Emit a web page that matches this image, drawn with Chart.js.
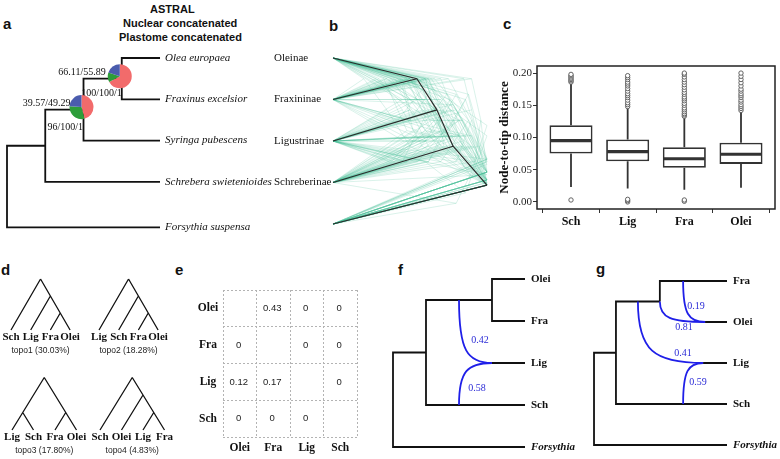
<!DOCTYPE html>
<html>
<head>
<meta charset="utf-8">
<script src="https://cdn.jsdelivr.net/npm/chart.js@4.4.1/dist/chart.umd.min.js"></script>
<style>
  body { margin: 0; background: #fff; }
  #page { position: relative; width: 780px; height: 459px; overflow: hidden; background: #fff; }
  #page canvas { position: absolute; }
  .tag { position: absolute; font: bold 15px/15px "Liberation Sans", Arial, sans-serif; color: #111; }
  .head { position: absolute; font: bold 11px/11px "Liberation Sans", Arial, sans-serif; color: #111; white-space: nowrap; }
</style>
</head>
<body>
<div id="page">
  <div class="tag" style="left:3px;top:16px">a</div>
  <div class="tag" style="left:329px;top:18px">b</div>
  <div class="tag" style="left:503px;top:16px">c</div>
  <div class="tag" style="left:1px;top:262px">d</div>
  <div class="tag" style="left:175px;top:262px">e</div>
  <div class="tag" style="left:398px;top:262px">f</div>
  <div class="tag" style="left:596px;top:261px">g</div>
  <div class="head" style="left:150px;top:4px">ASTRAL</div>
  <div class="head" style="left:123px;top:18px">Nuclear concatenated</div>
  <div class="head" style="left:119px;top:32px">Plastome concatenated</div>
</div>
<script>
// ---------- data ----------
// a: species tree (nested [depth, child, child]; numbers are tips)
const aTaxa = ['Olea europaea', 'Fraxinus excelsior', 'Syringa pubescens', 'Schrebera swietenioides', 'Forsythia suspensa'];
const aTree = [0, [1, [2, [3, 0, 1], 2], 3], 4];
const aPieDepth = [3, 2];
const aPieRed = [0.67, 0.46];
const aPieGreen = [0.13, 0.30];
const aPieBlue = [0.20, 0.24];
const aSupportTop = ['66.11/55.89', '39.57/49.29'];
const aSupportBottom = ['100/100/1', '96/100/1'];

// b: densitree, [child, child, height]; tips 0..4 = Oleinae, Fraxininae, Ligustrinae, Schreberinae, Forsythia
const bClades = ['Oleinae', 'Fraxininae', 'Ligustrinae', 'Schreberinae'];
const bConsensus = [[[[0, 1, 0.545], 2, 0.675], 3, 0.78], 4, 1];
const bGeneTrees = [
  [[[[0, 1, 0.50], 2, 0.62], 3, 0.74], 4, 1],
  [[[[0, 1, 0.58], 2, 0.70], 3, 0.80], 4, 1],
  [[[[0, 1, 0.40], 2, 0.55], 3, 0.70], 4, 1],
  [[[[0, 1, 0.62], 2, 0.72], 3, 0.85], 4, 1],
  [[[[0, 1, 0.35], 2, 0.65], 3, 0.76], 4, 1],
  [[[[0, 1, 0.52], 2, 0.60], 3, 0.90], 4, 1],
  [[[[0, 1, 0.70], 2, 0.78], 3, 0.88], 4, 1],
  [[[[0, 1, 0.45], 2, 0.50], 3, 0.62], 4, 1],
  [[[[0, 1, 0.30], 2, 0.45], 3, 0.58], 4, 1],
  [[[[0, 1, 0.56], 2, 0.68], 3, 0.72], 4, 1],
  [[[[0, 1, 0.48], 3, 0.64], 2, 0.78], 4, 1],
  [[[[0, 1, 0.55], 3, 0.70], 2, 0.82], 4, 1],
  [[[[0, 1, 0.38], 3, 0.60], 2, 0.74], 4, 1],
  [[[[0, 1, 0.62], 3, 0.75], 2, 0.90], 4, 1],
  [[[[0, 1, 0.44], 3, 0.52], 2, 0.66], 4, 1],
  [[[[0, 1, 0.50], 3, 0.66], 2, 0.86], 4, 1],
  [[[0, 1, 0.50], [2, 3, 0.55], 0.78], 4, 1],
  [[[0, 1, 0.42], [2, 3, 0.62], 0.75], 4, 1],
  [[[0, 1, 0.60], [2, 3, 0.48], 0.82], 4, 1],
  [[[0, 1, 0.35], [2, 3, 0.40], 0.66], 4, 1],
  [[[0, 1, 0.66], [2, 3, 0.70], 0.88], 4, 1],
  [[[0, 1, 0.52], [2, 3, 0.36], 0.70], 4, 1],
  [[[[1, 2, 0.50], 0, 0.64], 3, 0.80], 4, 1],
  [[[[1, 2, 0.42], 0, 0.58], 3, 0.72], 4, 1],
  [[[[2, 3, 0.45], 0, 0.62], 1, 0.78], 4, 1],
  [[[[2, 3, 0.48], 1, 0.66], 0, 0.80], 4, 1],
  [[[[2, 3, 0.38], 1, 0.55], 0, 0.74], 4, 1],
  [[[0, 2, 0.55], [1, 3, 0.60], 0.82], 4, 1],
  [[[[0, 2, 0.50], 1, 0.70], 3, 0.84], 4, 1],
  [[[[1, 3, 0.52], 2, 0.72], 0, 0.86], 4, 1],
  [[[[1, 3, 0.46], 2, 0.60], 0, 0.76], 4, 1],
  [[[0, 3, 0.64], [1, 2, 0.50], 0.84], 4, 1],
  [[[[0, 2, 0.45], 1, 0.60], 3, 0.76], 4, 1],
  [[0, 1, 0.55], [2, [3, 4, 0.80], 0.90], 1],
  [[[[0, 1, 0.50], 2, 0.66], 4, 0.85], 3, 1],
  [[[[0, 1, 0.60], 3, 0.70], 4, 0.90], 2, 1],
  [[0, 1, 0.48], [[2, 3, 0.60], 4, 0.86], 1],
  [[[[0, 1, 0.47], 2, 0.58], 3, 0.82], 4, 1],
  [[[[0, 1, 0.64], 2, 0.76], 3, 0.84], 4, 1],
  [[[[0, 1, 0.55], 2, 0.80], 3, 0.92], 4, 1],
  [[[[0, 1, 0.28], 2, 0.50], 3, 0.68], 4, 1],
  [[[[0, 1, 0.60], 2, 0.66], 3, 0.78], 4, 1],
  [[[[0, 1, 0.85], 2, 0.90], 3, 0.95], 4, 1],
  [[[0, 1, 0.90], [2, 3, 0.92], 0.96], 4, 1],
  [[[[0, 1, 0.20], 2, 0.35], 3, 0.50], 4, 1],
  [[[[0, 1, 0.33], 3, 0.48], 2, 0.62], 4, 1],
  [[[0, 1, 0.75], [2, 3, 0.80], 0.90], 4, 1],
  [[[[2, 3, 0.62], 1, 0.74], 0, 0.88], 4, 1]
];

// c: node-to-tip distance boxplots
const boxCats = ['Sch', 'Lig', 'Fra', 'Olei'];
const boxQ1 = [0.075, 0.063, 0.053, 0.059];
const boxMed = [0.095, 0.078, 0.067, 0.074];
const boxQ3 = [0.119, 0.097, 0.085, 0.092];
const whiskLo = [0.023, 0.021, 0.019, 0.022];
const whiskHi = [0.185, 0.147, 0.132, 0.141];
const outliers = [
  [0.003, 0.186, 0.188, 0.190, 0.192, 0.194, 0.196, 0.198],
  [0.000, 0.002, 0.004, 0.148, 0.151, 0.154, 0.158, 0.162, 0.165, 0.168, 0.172, 0.176, 0.180, 0.183, 0.186, 0.190, 0.193, 0.196],
  [0.001, 0.003, 0.133, 0.135, 0.137, 0.140, 0.143, 0.146, 0.150, 0.153, 0.157, 0.160, 0.163, 0.167, 0.170, 0.174, 0.178, 0.182, 0.186, 0.190, 0.194, 0.198, 0.200],
  [0.142, 0.145, 0.148, 0.151, 0.155, 0.158, 0.162, 0.165, 0.168, 0.172, 0.175, 0.180, 0.185, 0.190, 0.195, 0.200]
];

// d: topologies
const dTips = [['Sch', 'Lig', 'Fra', 'Olei'], ['Lig', 'Sch', 'Fra', 'Olei'], ['Lig', 'Sch', 'Fra', 'Olei'], ['Sch', 'Olei', 'Lig', 'Fra']];
const dTrees = [[0, [1, [2, 3]]], [0, [1, [2, 3]]], [[0, 1], [2, 3]], [0, [1, [2, 3]]]];
const dNames = ['topo1', 'topo2', 'topo3', 'topo4'];
const dShare = [30.03, 18.28, 17.80, 4.83];

// e: matrix
const eRows = ['Olei', 'Fra', 'Lig', 'Sch'];
const eCols = ['Olei', 'Fra', 'Lig', 'Sch'];
const eValues = [
  [null, 0.43, 0, 0],
  [0, null, 0, 0],
  [0.12, 0.17, null, 0],
  [0, 0, 0, null]
];

// f, g: networks
const fTips = ['Olei', 'Fra', 'Lig', 'Sch', 'Forsythia'];
const fTree = [0, [1, [3, 0, 1], 3], 4];
const fHybrids = [['hyb', 3, 2]];
const fRetFrom = [[2, 0.5], [2, 3]];
const fRetTo = [[3, 2], [3, 2]];
const fGamma = [0.42, 0.58];

const gTips = ['Fra', 'Olei', 'Lig', 'Sch', 'Forsythia'];
const gTree = [0, [0.66, [1.98, 0, ['hyb', 3.34, 1]], 3], 4];
const gHybrids = [['hyb', 3.28, 2]];
const gRetFrom = [[1.98, 0.5], [2.68, 0], [1.32, 0.5], [2.68, 3]];
const gRetTo = [[3.34, 1], [3.34, 1], [3.28, 2], [3.28, 2]];
const gGamma = [0.81, 0.19, 0.41, 0.59];

// ---------- helpers ----------
const SERIF = '"Liberation Serif", "DejaVu Serif", serif';
const SANS = '"Liberation Sans", Arial, sans-serif';
const page = document.getElementById('page');

function addCanvas(left, top, w, h) {
  const c = document.createElement('canvas');
  c.width = w; c.height = h;
  c.style.left = left + 'px'; c.style.top = top + 'px';
  c.style.width = w + 'px'; c.style.height = h + 'px';
  page.appendChild(c);
  return c;
}

function label(ctx, str, x, y, font, color, align) {
  ctx.save();
  ctx.font = font; ctx.fillStyle = color;
  ctx.textAlign = align || 'left'; ctx.textBaseline = 'middle';
  ctx.fillText(str, x, y);
  ctx.restore();
}

function pathData(paths) {
  const data = [];
  paths.forEach(p => { data.push(...p); data.push({ x: null, y: null }); });
  return data;
}

function lineSet(paths, color, width) {
  return {
    data: pathData(paths), showLine: true, spanGaps: false,
    borderColor: color, borderWidth: width, pointRadius: 0, pointHoverRadius: 0,
    borderJoinStyle: 'miter', borderCapStyle: 'butt'
  };
}

function flatChart(canvas, range, datasets, plugin) {
  return new Chart(canvas, {
    type: 'scatter',
    data: { datasets },
    options: {
      responsive: false, animation: false, events: [],
      layout: { padding: 0 },
      plugins: { legend: { display: false }, tooltip: { enabled: false } },
      scales: {
        x: { type: 'linear', display: false, min: range[0], max: range[1] },
        y: { type: 'linear', display: false, min: range[2], max: range[3], reverse: !!range[4] }
      }
    },
    plugins: plugin ? [plugin] : []
  });
}

function rectLayout(node, rows, tipX) {
  if (typeof node === 'number') return { x: tipX, y: rows[node] };
  if (node[0] === 'hyb') {
    const tip = rectLayout(node[2], rows, tipX);
    return { x: node[1], y: tip.y, kids: [tip], hyb: true };
  }
  const kids = node.slice(1).map(k => rectLayout(k, rows, tipX));
  return { x: node[0], y: kids.reduce((s, k) => s + k.y, 0) / kids.length, kids };
}

function rectPaths(n, out = []) {
  (n.kids || []).forEach(k => {
    if (!k.hyb) out.push([{ x: n.x, y: n.y }, { x: n.x, y: k.y }, { x: k.x, y: k.y }]);
    rectPaths(k, out);
  });
  return out;
}

function internalNodes(n, out = []) {
  if (n.kids) { out.push(n); n.kids.forEach(k => internalNodes(k, out)); }
  return out;
}

function slantLayout(node) {
  if (typeof node === 'number') return { x: 0, y: node };
  const kids = [slantLayout(node[0]), slantLayout(node[1])];
  return { x: node[2], y: (kids[0].y + kids[1].y) / 2, kids };
}

function slantPaths(n, out = []) {
  (n.kids || []).forEach(k => {
    out.push([{ x: k.x, y: k.y }, { x: n.x, y: n.y }]);
    slantPaths(k, out);
  });
  return out;
}

function cladoLayout(node) {
  if (typeof node === 'number') return { x: node, y: 0, lo: node, hi: node, n: 1 };
  const kids = node.map(cladoLayout);
  const lo = Math.min(...kids.map(k => k.lo));
  const hi = Math.max(...kids.map(k => k.hi));
  const n = kids.reduce((s, k) => s + k.n, 0);
  return { x: (lo + hi) / 2, y: n - 1, lo, hi, n, kids };
}

// ---------- a ----------
const aRows = [0, 1, 2, 3, 4.1];
const aRoot = rectLayout(aTree, aRows, 4);
const aNodes = internalNodes(aRoot);
const pieColors = ['#f26b6b', '#2d9d3a', '#4a5cae'];
const aLabelOffsets = [{ top: [-16, -6.5], bot: [0, 15] }, { top: [-13, -6.6], bot: [-0.5, 17.4] }];

flatChart(addCanvas(0, 30, 290, 215), [-0.183, 7.398, -0.678, 4.528, true],
  [lineSet(rectPaths(aRoot), '#111', 1.8)],
  {
    id: 'aText',
    afterDatasetsDraw(chart) {
      const { ctx, scales: { x, y } } = chart;
      aTaxa.forEach((t, i) => label(ctx, t, x.getPixelForValue(4) + 5, y.getPixelForValue(aRows[i]), 'italic 11px ' + SERIF, '#111'));
      aPieDepth.forEach((d, k) => {
        const n = aNodes.find(m => m.x === d);
        const nx = x.getPixelForValue(n.x), ny = y.getPixelForValue(n.y);
        const cx = nx - 2, cy = ny - 2.5;
        let a0 = -Math.PI / 2;
        [aPieRed[k], aPieGreen[k], aPieBlue[k]].forEach((f, j) => {
          ctx.beginPath(); ctx.moveTo(cx, cy);
          ctx.arc(cx, cy, 12, a0, a0 + f * 2 * Math.PI);
          ctx.closePath(); ctx.fillStyle = pieColors[j]; ctx.fill();
          a0 += f * 2 * Math.PI;
        });
        const off = aLabelOffsets[k];
        label(ctx, aSupportTop[k], nx + off.top[0], ny + off.top[1], '10px ' + SERIF, '#111', 'right');
        label(ctx, aSupportBottom[k], nx + off.bot[0], ny + off.bot[1], '10px ' + SERIF, '#111', 'right');
      });
    }
  });

// ---------- b ----------
const bGenePaths = [];
bGeneTrees.forEach(t => slantPaths(slantLayout(t), bGenePaths));
flatChart(addCanvas(268, 30, 227, 210), [-0.422, 1.052, -0.675, 4.385, true],
  [lineSet(slantPaths(slantLayout(bConsensus)), '#2b2b2b', 1.2),
   lineSet(bGenePaths, 'rgba(70,190,150,0.24)', 0.85)],
  {
    id: 'bText',
    afterDatasetsDraw(chart) {
      const { ctx, scales: { x, y } } = chart;
      bClades.forEach((t, i) => label(ctx, t, x.getPixelForValue(0) - 59, y.getPixelForValue(i), '11px ' + SERIF, '#111'));
    }
  });

// ---------- c ----------
const boxPlugin = {
  id: 'boxParts',
  beforeDatasetsDraw(chart) {
    const { ctx, scales: { x, y } } = chart;
    ctx.save(); ctx.strokeStyle = '#333'; ctx.lineWidth = 1.8;
    boxCats.forEach((c, i) => {
      const px = x.getPixelForValue(i + 1);
      ctx.beginPath();
      ctx.moveTo(px, y.getPixelForValue(whiskLo[i])); ctx.lineTo(px, y.getPixelForValue(boxQ1[i]));
      ctx.moveTo(px, y.getPixelForValue(boxQ3[i])); ctx.lineTo(px, y.getPixelForValue(whiskHi[i]));
      ctx.stroke();
    });
    ctx.restore();
  },
  afterDatasetsDraw(chart) {
    const { ctx, scales: { y }, chartArea } = chart;
    const bars = chart.getDatasetMeta(0).data;
    ctx.save(); ctx.strokeStyle = '#333'; ctx.lineWidth = 3.2;
    bars.forEach((b, i) => {
      const py = y.getPixelForValue(boxMed[i]);
      ctx.beginPath(); ctx.moveTo(b.x - b.width / 2 + 1, py); ctx.lineTo(b.x + b.width / 2 - 1, py); ctx.stroke();
    });
    ctx.lineWidth = 1.5; ctx.strokeStyle = '#222';
    ctx.strokeRect(chartArea.left, chartArea.top, chartArea.right - chartArea.left, chartArea.bottom - chartArea.top);
    ctx.restore();
  }
};

const tickGrid = { drawOnChartArea: false, drawTicks: true, tickLength: 4, color: '#333', lineWidth: 1 };
new Chart(addCanvas(480, 40, 300, 200), {
  type: 'bar',
  data: {
    datasets: [
      {
        type: 'bar', order: 2,
        data: boxCats.map((c, i) => ({ x: i + 1, y: [boxQ1[i], boxQ3[i]] })),
        backgroundColor: '#fff', borderColor: '#333', borderWidth: 1.8, borderSkipped: false,
        barPercentage: 0.76, categoryPercentage: 1
      },
      {
        type: 'scatter', order: 1,
        data: outliers.flatMap((vals, i) => vals.map(v => ({ x: i + 1, y: v }))),
        pointRadius: 2.2, pointBackgroundColor: '#fff', pointBorderColor: '#555', pointBorderWidth: 0.9
      }
    ]
  },
  options: {
    responsive: false, animation: false, events: [],
    layout: { padding: { top: 26, right: 5, left: 0, bottom: 0 } },
    plugins: { legend: { display: false }, tooltip: { enabled: false } },
    scales: {
      x: {
        type: 'linear', min: 0.4, max: 4.6, offset: false,
        ticks: { stepSize: 1, includeBounds: false, autoSkip: false, maxRotation: 0, padding: 2,
                 callback: v => boxCats[v - 1] || '', font: { family: SERIF, size: 12, weight: 'bold' }, color: '#111' },
        grid: tickGrid, border: { display: false },
        afterFit: s => { s.height = 31; }
      },
      y: {
        type: 'linear', min: -0.011, max: 0.211,
        ticks: { stepSize: 0.05, includeBounds: false, padding: 1,
                 callback: v => v.toFixed(2), font: { family: SERIF, size: 11 }, color: '#222' },
        grid: tickGrid, border: { display: false },
        title: { display: true, text: 'Node-to-tip distance', color: '#111',
                 font: { family: SERIF, size: 13, weight: 'bold' }, padding: { top: 17, bottom: 0 } },
        afterFit: s => { s.width = 57; }
      }
    }
  },
  plugins: [boxPlugin]
});

// ---------- d ----------
const dBoxes = [[0, 262], [88, 262], [0, 360], [88, 360]];
const dRanges = [
  [-0.558, 3.909, -1.882, 4.0],
  [-0.558, 3.909, -1.882, 4.0],
  [-0.558, 3.535, -1.714, 4.0],
  [-0.558, 3.535, -1.714, 4.0]
];
dTrees.forEach((tree, t) => {
  const root = cladoLayout(tree);
  const paths = [];
  (function walk(n) {
    (n.kids || []).forEach(k => { paths.push([{ x: n.x, y: n.y }, { x: k.x, y: k.y }]); walk(k); });
  })(root);
  flatChart(addCanvas(dBoxes[t][0], dBoxes[t][1], 88, 100), dRanges[t],
    [lineSet(paths, '#111', 1.3)],
    {
      id: 'dText' + t,
      afterDatasetsDraw(chart) {
        const { ctx, scales: { x, y } } = chart;
        const base = y.getPixelForValue(0);
        dTips[t].forEach((s, i) => label(ctx, s, x.getPixelForValue(i), base + 7.5, 'bold 11px ' + SERIF, '#111', 'center'));
        label(ctx, dNames[t] + ' (' + dShare[t].toFixed(2) + '%)', x.getPixelForValue(1.5), base + 21, '8.5px ' + SANS, '#222', 'center');
      }
    });
});

// ---------- e ----------
const eGrid = { color: '#b3b3b3', lineWidth: 1, drawTicks: false };
new Chart(addCanvas(195, 280, 170, 179), {
  type: 'scatter',
  data: { datasets: [] },
  options: {
    responsive: false, animation: false, events: [],
    layout: { padding: { left: 28, top: 10, right: 8, bottom: 22 } },
    plugins: { legend: { display: false }, tooltip: { enabled: false } },
    scales: {
      x: { type: 'linear', min: 0, max: 4, ticks: { display: false, stepSize: 1 }, grid: eGrid,
           border: { display: false, dash: [2, 2] }, afterFit: s => { s.height = 0; } },
      y: { type: 'linear', min: 0, max: 4, reverse: true, ticks: { display: false, stepSize: 1 }, grid: eGrid,
           border: { display: false, dash: [2, 2] }, afterFit: s => { s.width = 0; } }
    }
  },
  plugins: [{
    id: 'eText',
    afterDraw(chart) {
      const { ctx, scales: { x, y }, chartArea } = chart;
      eRows.forEach((r, i) => label(ctx, r, chartArea.left - 15, y.getPixelForValue(i + 0.5), 'bold 11.5px ' + SERIF, '#111', 'center'));
      eCols.forEach((c, j) => label(ctx, c, x.getPixelForValue(j + 0.5), chartArea.bottom + 11, 'bold 11.5px ' + SERIF, '#111', 'center'));
      eValues.forEach((row, i) => row.forEach((v, j) => {
        if (v === null) return;
        label(ctx, v === 0 ? '0' : v.toFixed(2), x.getPixelForValue(j + 0.5) - 1, y.getPixelForValue(i + 0.5), '9.5px ' + SANS, '#222', 'center');
      }));
    }
  }]
});

// ---------- f, g ----------
function networkPanel(box, range, tree, hybrids, tips, retFrom, retTo, gamma, gammaOffset) {
  const rows = [0, 1, 2, 3, 4];
  const root = rectLayout(tree, rows, 4);
  const paths = rectPaths(root);
  hybrids.forEach(h => rectPaths(rectLayout(h, rows, 4), paths));
  flatChart(addCanvas(box[0], box[1], box[2], box[3]), range,
    [lineSet(paths, '#111', 1.8)],
    {
      id: 'net' + box[0],
      afterDatasetsDraw(chart) {
        const { ctx, scales: { x, y } } = chart;
        ctx.save(); ctx.strokeStyle = '#1f1fe8'; ctx.lineWidth = 1.8;
        retFrom.forEach((p, i) => {
          const x0 = x.getPixelForValue(p[0]), y0 = y.getPixelForValue(p[1]);
          const x1 = x.getPixelForValue(retTo[i][0]), y1 = y.getPixelForValue(retTo[i][1]);
          ctx.beginPath(); ctx.moveTo(x0, y0);
          ctx.bezierCurveTo(x0, y0 + 0.8 * (y1 - y0), x0 + 0.25 * (x1 - x0), y1, x1, y1);
          ctx.stroke();
          label(ctx, gamma[i].toFixed(2), x1 + gammaOffset[i][0], y1 + gammaOffset[i][1], '10px ' + SERIF, '#2a2ad6', 'center');
        });
        ctx.restore();
        tips.forEach((t, i) => {
          const font = (t === 'Forsythia' ? 'italic bold 11px ' : 'bold 11px ') + SERIF;
          label(ctx, t, x.getPixelForValue(4) + 6, y.getPixelForValue(i), font, '#111');
        });
      }
    });
}

networkPanel([385, 262, 195, 197], [-0.2424, 5.667, -0.405, 4.286, true],
  fTree, fHybrids, fTips, fRetFrom, fRetTo, fGamma, [[-12, -23], [-15, 25]]);
networkPanel([585, 262, 195, 197], [-0.271, 5.594, -0.463, 4.342, true],
  gTree, gHybrids, gTips, gRetFrom, gRetTo, gGamma, [[-21, 5], [-9, -16], [-20, -10], [-5, 19]]);
</script>
</body>
</html>
